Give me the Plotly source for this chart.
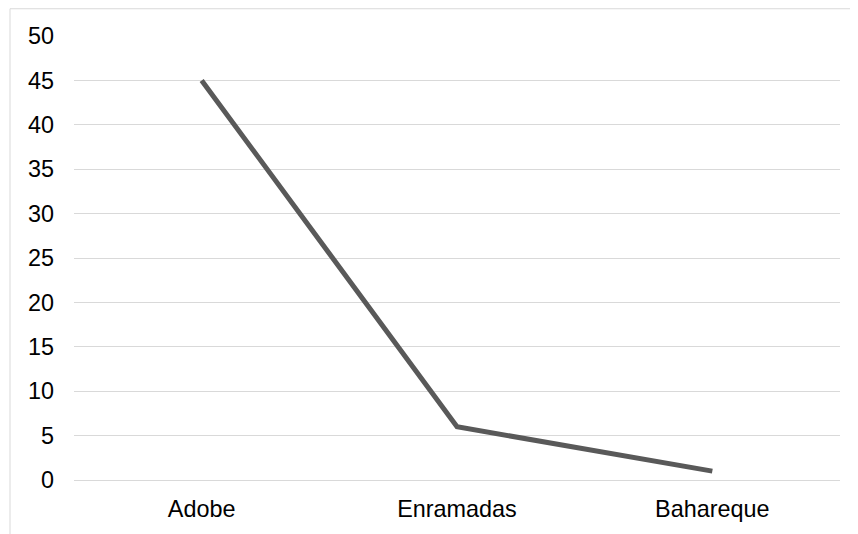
import plotly.graph_objects as go

categories = ["Adobe", "Enramadas", "Bahareque"]
values = [45, 6, 1]

fig = go.Figure()
fig.add_trace(go.Scatter(
    x=categories, y=values, mode="lines",
    line=dict(color="#595959", width=5),
    hoverinfo="skip", showlegend=False,
))

# page body has an 8px margin, so the figure is 8px smaller than the window
W, H = 850, 526
L, R, T, B = 66, 18, 28, 50
pw, ph = W - L - R, H - T - B

fig.add_shape(type="rect", xref="paper", yref="paper",
              x0=(2 - L) / pw, x1=1 + (R + 20) / pw,
              y0=-(B + 20) / ph, y1=1 + (T - 0.5) / ph,
              line=dict(color="#d9d9d9", width=1), fillcolor="rgba(0,0,0,0)", layer="below")

fig.update_layout(
    width=W, height=H,
    margin=dict(l=L, r=R, t=T, b=B),
    paper_bgcolor="white", plot_bgcolor="white",
    font=dict(family="Liberation Sans, Arial, sans-serif", size=23.4, color="#000000"),
    xaxis=dict(type="category", range=[-0.5, 2.5], showgrid=False, showline=True,
               linecolor="#d9d9d9", linewidth=1, ticks="", ticklabelstandoff=8,
               zeroline=False),
    yaxis=dict(range=[0, 50], dtick=5, tick0=0, showgrid=True, gridcolor="#d9d9d9",
               gridwidth=1, zeroline=False, showline=False, ticks="",
               ticklabelstandoff=19),
)

fig.write_html("out.html")
